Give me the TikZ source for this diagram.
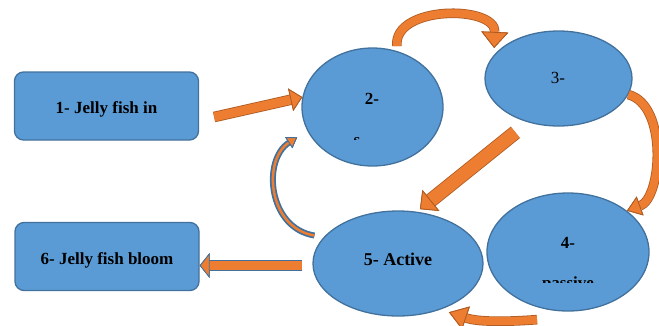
\documentclass[tikz,border=0pt]{standalone}
\usepackage{fontspec}
\setmainfont{Liberation Serif}
\usepackage{tikz}
\usetikzlibrary{shapes.geometric,arrows.meta}

\definecolor{boxfill}{HTML}{5B9BD5}
\definecolor{boxline}{HTML}{41719C}
\definecolor{arrfill}{HTML}{ED7D31}
\definecolor{arrline}{HTML}{AE5A21}

\tikzset{
  stage/.style={rectangle,rounded corners=9pt,draw=boxline,fill=boxfill,line width=1.3pt,
    minimum width=184pt,minimum height=68pt,text height=15pt,text depth=0pt,
    font=\fontsize{17}{20}\selectfont\bfseries},
  phase/.style={ellipse,draw=boxline,fill=boxfill,line width=1.3pt,inner sep=0pt},
  txt/.style={inner sep=0pt,font=\fontsize{17}{20}\selectfont\bfseries},
  fat/.style n args={3}{line width=#1,draw=arrfill,preaction={draw=arrline,line width=#1+1.6pt},
    -{Triangle[length=#3,width=#2,line width=0.8pt,color=arrline,fill=arrfill]}},
  fatblue/.style n args={3}{line width=#1,draw=arrfill,preaction={draw=boxline,line width=#1+1.6pt},
    -{Triangle[length=#3,width=#2,line width=0.8pt,color=boxline,fill=arrfill]}},
}

\begin{document}
\begin{tikzpicture}[x=1pt,y=-1pt]
\useasboundingbox (0,0) rectangle (659,325);

% boxes
\node[stage] (n1) at (106.5,106) {1- Jelly fish in};
\node[stage] (n6) at (107,256.5) {6- Jelly fish bloom};

% ellipses
\node[phase,minimum width=141pt,minimum height=118pt] (n2) at (372.5,107) {};
\node[phase,minimum width=147pt,minimum height=95pt] (n3) at (558.5,78.5) {};
\node[phase,minimum width=162pt,minimum height=118pt] (n4) at (568,252) {};
\node[phase,minimum width=170pt,minimum height=105pt] (n5) at (398,263.5) {};

\node[txt] (t2) at (372,99) {2-};
\node[txt,font=\fontsize{17}{20}\selectfont] (t3) at (558,78) {3-};
\node[txt] (t4) at (568,243) {4-};
\node[txt,font=\fontsize{18}{21}\selectfont\bfseries] (t5) at (398,259) {5- Active};

% half hidden lines
\begin{scope}
  \clip (340,120) rectangle (380,139);
  \node[txt,anchor=base] (t2b) at (357,145) {s};
\end{scope}
\begin{scope}
  \clip (480,250) rectangle (660,282);
  \node[txt,anchor=base] (t4b) at (568,288) {passive};
\end{scope}

% arrows
\draw[fat={9pt}{23pt}{12pt}] ([shift={(15,11)}]n1.east) -- (n2.172);
\draw[fat={8pt}{27pt}{16pt},shorten <=5pt,shorten >=7pt] (n2.66) .. controls (393,5) and (496,5) .. (n3.160);
\draw[fat={8pt}{20pt}{14pt}] (n3.-13) .. controls (668,105) and (662,198) .. (n4.35);
\draw[fat={8pt}{24pt}{18pt}] ([shift={(-10,10)}]n4.-110) .. controls (505,322) and (478,322) .. ([shift={(0,6)}]n5.-40);
\draw[fat={13pt}{27pt}{14pt},shorten <=16pt,shorten >=4pt] (n3.-125) -- (n5.70);
\draw[fatblue={2.5pt}{13pt}{10pt},preaction={draw=boxline,line width=6pt},shorten >=12pt]
  ([shift={(2,-28)}]n5.west) .. controls (268,228) and (262,160) .. (n2.200);
\coordinate (s56) at ([shift={(-10,2)}]n5.west);
\draw[fatblue={9pt}{25pt}{10pt}] (s56) -- (s56 -| n6.east) ;
\end{tikzpicture}
\end{document}
